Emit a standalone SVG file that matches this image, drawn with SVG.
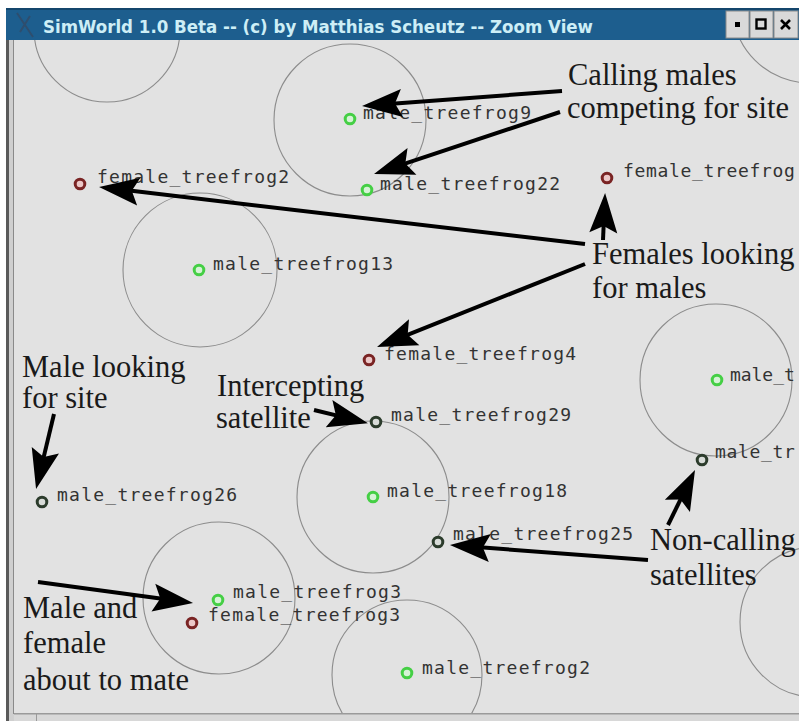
<svg xmlns="http://www.w3.org/2000/svg" width="799" height="721" viewBox="0 0 799 721">
<defs>
<style>
.lbl{font-family:"DejaVu Sans Mono","Liberation Mono",monospace;font-size:18px;letter-spacing:1.25px;fill:#333333}
.ann{font-family:"Liberation Serif","Times New Roman",serif;font-size:30.5px;fill:#1a1a1a}
.rng{fill:none;stroke:#8c8c8c;stroke-width:1.1}
.g{fill:#d6f3d6;stroke:#45cf45;stroke-width:3}
.r{fill:#ecc8c8;stroke:#7a2424;stroke-width:3}
.d{fill:#d8dcd8;stroke:#2c3c2c;stroke-width:3}
.ar{fill:none;stroke:#000;stroke-width:4;marker-end:url(#ah)}
.btn{fill:#d9d9d9;stroke:#8a8a8a;stroke-width:1}
</style>
<clipPath id="canvas"><rect x="14" y="40" width="785" height="673"/></clipPath>
<marker id="ah" viewBox="-42 -16 44 32" refX="-20" refY="0" markerWidth="44" markerHeight="32" markerUnits="userSpaceOnUse" orient="auto">
<path d="M0,0 L-40,-14 L-33,0 L-40,14 Z" fill="#000"/>
</marker>
</defs>
<rect x="0" y="0" width="799" height="721" fill="#ffffff"/>
<g id="window">
<rect x="14" y="40" width="785" height="674" fill="#e2e2e2"/>
<rect x="6" y="40" width="3" height="681" fill="#5a5a5a"/>
<rect x="9" y="40" width="5" height="681" fill="#cfcfcf"/>
<rect x="13" y="40" width="1" height="674" fill="#8a8a8a"/>
<rect x="14" y="713" width="785" height="8" fill="#d8d8d8"/>
<rect x="14" y="713" width="785" height="1.5" fill="#9a9a9a"/>
<rect x="36" y="714" width="1" height="7" fill="#9a9a9a"/>
<rect x="6" y="8" width="793" height="32" fill="#1d5e8e"/>
<rect x="6" y="8" width="793" height="2" fill="#14466c"/>
<path d="M17,13 L33,37 M30,16 L20,32" stroke="#2e4e6e" stroke-width="2" fill="none"/>
<text x="43" y="33" font-family="DejaVu Sans, Verdana, sans-serif" font-weight="bold" font-size="17" fill="#cdeef6" textLength="550" lengthAdjust="spacingAndGlyphs">SimWorld 1.0 Beta -- (c) by Matthias Scheutz -- Zoom View</text>
<rect class="btn" x="726" y="11" width="23" height="27"/>
<rect class="btn" x="750" y="11" width="23" height="27"/>
<rect class="btn" x="774" y="11" width="24" height="27"/>
<rect x="735" y="22" width="5" height="5" fill="#000"/>
<rect x="756.5" y="19.5" width="9" height="9" fill="none" stroke="#000" stroke-width="2.4"/>
<path d="M781,20 L790,29 M790,20 L781,29" stroke="#000" stroke-width="2.6"/>
</g>
<g id="ranges" clip-path="url(#canvas)">
<circle class="rng" cx="107" cy="29" r="73"/>
<circle class="rng" cx="350" cy="120" r="76"/>
<circle class="rng" cx="810" cy="5" r="78"/>
<circle class="rng" cx="200" cy="270" r="77"/>
<circle class="rng" cx="716" cy="380" r="76"/>
<circle class="rng" cx="373" cy="497" r="76"/>
<circle class="rng" cx="219" cy="598" r="76"/>
<circle class="rng" cx="407" cy="675" r="75"/>
<circle class="rng" cx="815" cy="622" r="75"/>
</g>
<g id="male_treefrog9"><circle class="g" cx="350" cy="119" r="4.8"/><text class="lbl" x="363" y="119">male_treefrog9</text></g>
<g id="male_treefrog22"><circle class="g" cx="367" cy="190" r="4.8"/><text class="lbl" x="380" y="190">male_treefrog22</text></g>
<g id="female_treefrog2"><circle class="r" cx="80" cy="184" r="4.8"/><text class="lbl" x="97" y="183">female_treefrog2</text></g>
<g id="female_treefrog_r"><circle class="r" cx="607" cy="178" r="4.8"/><text class="lbl" x="623" y="177" textLength="173" lengthAdjust="spacing">female_treefrog</text></g>
<g id="male_treefrog13"><circle class="g" cx="199" cy="270" r="4.8"/><text class="lbl" x="213" y="270">male_treefrog13</text></g>
<g id="female_treefrog4"><circle class="r" cx="369" cy="360" r="4.8"/><text class="lbl" x="384" y="360">female_treefrog4</text></g>
<g id="male_t"><circle class="g" cx="717" cy="380" r="4.8"/><text class="lbl" x="730" y="381" textLength="66" lengthAdjust="spacing">male_t</text></g>
<g id="male_treefrog29"><circle class="d" cx="376" cy="422" r="4.8"/><text class="lbl" x="391" y="421">male_treefrog29</text></g>
<g id="male_tr"><circle class="d" cx="702" cy="460" r="4.8"/><text class="lbl" x="715" y="458" textLength="81" lengthAdjust="spacing">male_tr</text></g>
<g id="male_treefrog26"><circle class="d" cx="42" cy="502" r="4.8"/><text class="lbl" x="57" y="501">male_treefrog26</text></g>
<g id="male_treefrog18"><circle class="g" cx="373" cy="497" r="4.8"/><text class="lbl" x="387" y="497">male_treefrog18</text></g>
<g id="male_treefrog25"><circle class="d" cx="438" cy="542" r="4.8"/><text class="lbl" x="453" y="540">male_treefrog25</text></g>
<g id="male_treefrog3"><circle class="g" cx="218" cy="600" r="4.8"/><text class="lbl" x="233" y="598">male_treefrog3</text></g>
<g id="female_treefrog3"><circle class="r" cx="192" cy="623" r="4.8"/><text class="lbl" x="208" y="621">female_treefrog3</text></g>
<g id="male_treefrog2"><circle class="g" cx="407" cy="673" r="4.8"/><text class="lbl" x="422" y="674">male_treefrog2</text></g>
<g id="ann_calling"><text class="ann" x="568" y="85">Calling males</text><text class="ann" x="567" y="118">competing for site</text></g>
<g id="ann_females"><text class="ann" x="592" y="264">Females looking</text><text class="ann" x="592" y="298">for males</text></g>
<g id="ann_male_site"><text class="ann" x="22" y="377">Male looking</text><text class="ann" x="22" y="408">for site</text></g>
<g id="ann_intercept"><text class="ann" x="217" y="396">Intercepting</text><text class="ann" x="216" y="428">satellite</text></g>
<g id="ann_noncalling"><text class="ann" x="650" y="550">Non-calling</text><text class="ann" x="650" y="585">satellites</text></g>
<g id="ann_mate"><text class="ann" x="23" y="618">Male and</text><text class="ann" x="23" y="653">female</text><text class="ann" x="23" y="690">about to mate</text></g>
<g id="connectors">
<path class="ar" d="M562,91 L382,104.5"/>
<path class="ar" d="M560,112 L393,167.7"/>
<path class="ar" d="M585,244 L118.9,189.3"/>
<path class="ar" d="M585,264 L395.6,339.6"/>
<path class="ar" d="M603,240 L604.2,213"/>
<path class="ar" d="M54,414 L40.7,469.6"/>
<path class="ar" d="M314,410 L348.5,418.4"/>
<path class="ar" d="M648,560 L469.9,546.5"/>
<path class="ar" d="M668,525 L686.2,487.9"/>
<path class="ar" d="M38,582 L173.2,600.3"/>
</g>
</svg>
